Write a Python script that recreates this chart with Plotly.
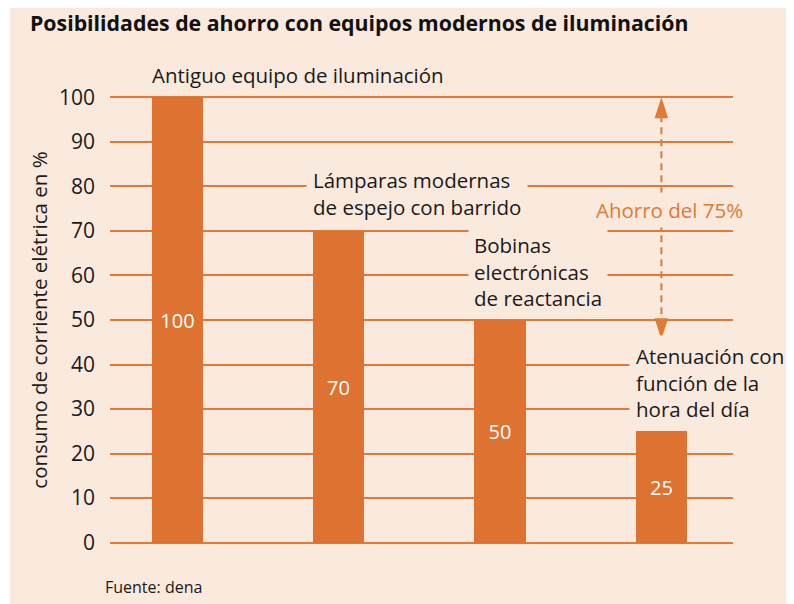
import plotly.graph_objects as go

# ---- data ----
categories = [
    "Antiguo equipo de iluminación",
    "Lámparas modernas<br>de espejo con barrido",
    "Bobinas<br>electrónicas<br>de reactancia",
    "Atenuación con<br>función de la<br>hora del día",
]
values = [100, 70, 50, 25]
y_ticks = [0, 10, 20, 30, 40, 50, 60, 70, 80, 90, 100]
savings_label = "Ahorro del 75%"
savings_from = 100
savings_to = 50
title_text = "Posibilidades de ahorro con equipos modernos de iluminación"
yaxis_title = "consumo de corriente elétrica en %"
source_text = "Fuente: dena"

# ---- style ----
BG = "#FAE9DD"
BAR = "#DE7230"
GRID = "#E27A36"
ACC = "#E07A35"
TXT = "#1a1a1a"
FONT = "Open Sans"

# page has an 8px body margin: figure origin sits at screen (8, 8)
OFF = 8
W, H = 794 - OFF, 604 - OFF
L, R, T, B = 110 - OFF, 61, 96 - OFF, 60
pw, ph = W - L - R, H - T - B
YR = [-0.3, 100.3]

xpos = list(range(len(categories)))
bar_w = 0.317

fig = go.Figure()
fig.add_trace(go.Bar(
    x=xpos, y=values, width=bar_w,
    marker=dict(color=BAR, line=dict(width=0)),
    text=[str(v) for v in values], textposition="inside",
    insidetextanchor="middle",
    textfont=dict(family=FONT, size=20, color="white"),
    hoverinfo="skip", showlegend=False,
))

# dashed savings line with arrowheads
arrow_x = xpos[-1]
fig.add_trace(go.Scatter(
    x=[arrow_x, arrow_x], y=[savings_from - 4, savings_to + 0.5],
    mode="lines", line=dict(color=ACC, width=2, dash="7px,5px"),
    hoverinfo="skip", showlegend=False,
))
fig.add_trace(go.Scatter(
    x=[arrow_x, arrow_x], y=[savings_from, savings_to - 4.3],
    mode="markers",
    marker=dict(symbol="arrow", angle=[0, 180], size=22, color=ACC,
                line=dict(width=0)),
    hoverinfo="skip", showlegend=False,
))

# category label annotations
label_y = [105, 78.4, 61, 36]
label_pad = [0, 6, 5, 6]
for i, (lab, yy, pad) in enumerate(zip(categories, label_y, label_pad)):
    kw = dict(yref="y", y=yy)
    if yy > YR[1]:
        kw = dict(yref="paper", y=(yy - YR[0]) / (YR[1] - YR[0]))
    fig.add_annotation(
        x=xpos[i] - bar_w / 2, xref="x", **kw,
        text=lab, showarrow=False, xanchor="left", yanchor="middle",
        align="left", xshift=-pad - 1,
        bgcolor=BG if pad else None, borderpad=pad,
        font=dict(family=FONT, size=20.5, color=TXT),
    )

fig.add_annotation(
    x=arrow_x + 0.053, y=74.7, xref="x", yref="y",
    text=savings_label, showarrow=False, xanchor="center", yanchor="middle",
    bgcolor=BG, borderpad=3,
    font=dict(family=FONT, size=20.5, color=ACC),
)

fig.add_annotation(
    x=(103 - OFF - L) / pw, y=(H - B - (587 - OFF)) / ph, xref="paper", yref="paper",
    text=source_text, showarrow=False, xanchor="left", yanchor="middle",
    font=dict(family=FONT, size=16, color=TXT),
)

# peach panel
fig.add_shape(type="rect", xref="paper", yref="paper", layer="below",
              x0=(10 - OFF - L) / pw, x1=(W + 5 - L) / pw,
              y0=(H - B - H - 5) / ph, y1=(H - B + 5) / ph,
              fillcolor=BG, line=dict(width=0))

fig.update_layout(
    width=W, height=H,
    margin=dict(l=L, r=R, t=T, b=B),
    paper_bgcolor="white", plot_bgcolor="rgba(0,0,0,0)",
    font=dict(family=FONT, color=TXT),
    title=dict(text="<b>" + title_text + "</b>", xref="container", yref="container",
               x=(30 - OFF) / W, y=1 - (24 - OFF) / H, xanchor="left", yanchor="middle",
               font=dict(family=FONT, size=21.3, color="#111")),
    bargap=0,
    xaxis=dict(range=[-0.418, 3.444], showticklabels=False, showgrid=False,
               zeroline=False, showline=False, ticks=""),
    yaxis=dict(range=YR, tickvals=y_ticks, showgrid=True,
               gridcolor=GRID, gridwidth=2, zeroline=False, showline=False,
               ticks="", ticklabelstandoff=14,
               tickfont=dict(family=FONT, size=21, color=TXT),
               title=dict(text=yaxis_title, standoff=5,
                          font=dict(family=FONT, size=20.5, color=TXT))),
)

fig.write_html("out.html")
